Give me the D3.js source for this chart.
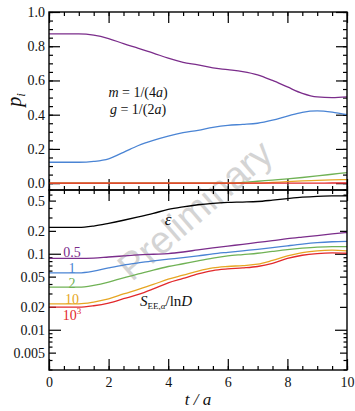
<!DOCTYPE html>
<html>
<head>
<meta charset="utf-8">
<script src="https://cdn.jsdelivr.net/npm/d3@7"></script>
<style>
body { margin: 0; background: #fff; }
text { font-family: "Liberation Serif", "DejaVu Serif", serif; }
</style>
</head>
<body>
<div id="chart"></div>
<script>
// time grid
var tVals = [0, 1, 1.5, 2, 2.5, 3, 3.5, 4, 4.5, 5, 5.5, 6, 6.5, 7, 7.5, 8, 8.5, 9, 9.5, 10]

// upper panel: probabilities p_i
var pPurple = [0.872, 0.872, 0.865, 0.845, 0.815, 0.788, 0.760, 0.730, 0.706, 0.691, 0.673, 0.663, 0.652, 0.633, 0.600, 0.562, 0.525, 0.504, 0.500, 0.504]
var pBlue   = [0.122, 0.122, 0.127, 0.142, 0.180, 0.220, 0.250, 0.275, 0.295, 0.308, 0.326, 0.338, 0.343, 0.350, 0.368, 0.392, 0.414, 0.422, 0.415, 0.400]
var pGreen  = [0, 0, 0, 0, 0, 0, 0, 0, 0, 0, 0, 0, 0.004, 0.011, 0.018, 0.025, 0.033, 0.042, 0.052, 0.062]
var pOrange = [0, 0, 0, 0, 0, 0, 0, 0, 0, 0, 0, 0, 0, 0, 0.004, 0.009, 0.013, 0.016, 0.019, 0.021]
var pRed    = [0, 0, 0, 0, 0, 0, 0, 0, 0, 0, 0, 0, 0, 0, 0, 0, 0, 0, 0.001, 0.001]

// lower panel: epsilon and S_EE,alpha / lnD
var eps    = [0.225, 0.225, 0.235, 0.255, 0.280, 0.310, 0.345, 0.388, 0.420, 0.448, 0.468, 0.480, 0.486, 0.494, 0.515, 0.540, 0.563, 0.578, 0.585, 0.588]
var s05    = [0.088, 0.088, 0.089, 0.092, 0.095, 0.098, 0.100, 0.102, 0.107, 0.114, 0.121, 0.128, 0.135, 0.143, 0.151, 0.160, 0.168, 0.176, 0.185, 0.193]
var s1     = [0.057, 0.057, 0.060, 0.066, 0.072, 0.077, 0.082, 0.086, 0.090, 0.095, 0.101, 0.106, 0.111, 0.116, 0.122, 0.129, 0.136, 0.142, 0.146, 0.148]
var s2     = [0.037, 0.037, 0.039, 0.043, 0.049, 0.055, 0.062, 0.069, 0.075, 0.082, 0.089, 0.095, 0.099, 0.103, 0.109, 0.115, 0.120, 0.124, 0.126, 0.126]
var s10    = [0.0223, 0.0223, 0.0235, 0.0258, 0.030, 0.0345, 0.040, 0.047, 0.053, 0.060, 0.066, 0.069, 0.071, 0.074, 0.083, 0.095, 0.105, 0.111, 0.113, 0.111]
var s1000  = [0.0201, 0.0201, 0.021, 0.0228, 0.026, 0.0296, 0.035, 0.042, 0.048, 0.055, 0.061, 0.064, 0.066, 0.069, 0.076, 0.088, 0.097, 0.102, 0.104, 0.103]

var xTicks = [0, 2, 4, 6, 8, 10]
var pTicks = [0, 0.2, 0.4, 0.6, 0.8, 1.0]
var logTicks = [0.005, 0.01, 0.02, 0.05, 0.1, 0.2, 0.5]

var cPurple = '#7b2d8b', cBlue = '#4a84d4', cGreen = '#70b255', cOrange = '#e6a623', cRed = '#e2292c'

var W = 355, H = 411
var L = 49, R = 347, T = 12, M = 190, B = 370

var svg = d3.select('#chart').append('svg').attr('width', W).attr('height', H)
svg.append('rect').attr('width', W).attr('height', H).attr('fill', '#fff')

var x = d3.scaleLinear().domain([0, 10]).range([L, R])
var yTop = d3.scaleLinear().domain([-0.04, 1.0]).range([M, T])
var yBot = d3.scaleLog().domain([0.003, 0.7]).range([B, M])

// watermark
svg.append('text')
	.attr('transform', 'translate(195,210) rotate(-41)')
	.attr('text-anchor', 'middle')
	.attr('dominant-baseline', 'central')
	.style('font-family', '"Liberation Sans", Arial, sans-serif')
	.style('font-size', '38px')
	.attr('fill', '#d4d4d4')
	.text('Preliminary')

function minorRange(a, b, s) {
	var out = []
	for (var v = a; v <= b + 1e-9; v += s) out.push(+v.toFixed(4))
	return out
}

function styleAxis(g) {
	g.select('.domain').remove()
	g.selectAll('line').attr('stroke', '#000').attr('stroke-width', 1.2)
	g.selectAll('text').style('font-family', '"Liberation Serif", serif').style('font-size', '14px').attr('fill', '#111')
}

// ---------- upper panel ticks ----------
var xMinor = minorRange(0, 10, 0.5)
var pMinor = minorRange(-0.0, 1.0, 0.05)

svg.append('g').attr('transform', 'translate(0,' + M + ')')
	.call(d3.axisBottom(x).tickValues(xMinor).tickSize(-4).tickFormat('')).call(styleAxis)
svg.append('g').attr('transform', 'translate(0,' + M + ')')
	.call(d3.axisBottom(x).tickValues(xTicks).tickSize(-11).tickFormat('')).call(styleAxis)
svg.append('g').attr('transform', 'translate(0,' + T + ')')
	.call(d3.axisTop(x).tickValues(xMinor).tickSize(-4).tickFormat('')).call(styleAxis)
svg.append('g').attr('transform', 'translate(0,' + T + ')')
	.call(d3.axisTop(x).tickValues(xTicks).tickSize(-11).tickFormat('')).call(styleAxis)

svg.append('g').attr('transform', 'translate(' + L + ',0)')
	.call(d3.axisLeft(yTop).tickValues(pMinor).tickSize(-4).tickFormat('')).call(styleAxis)
svg.append('g').attr('transform', 'translate(' + L + ',0)')
	.call(d3.axisLeft(yTop).tickValues(pTicks).tickSize(-11).tickPadding(4).tickFormat(d3.format('.1f'))).call(styleAxis)
svg.append('g').attr('transform', 'translate(' + R + ',0)')
	.call(d3.axisRight(yTop).tickValues(pMinor).tickSize(-4).tickFormat('')).call(styleAxis)
svg.append('g').attr('transform', 'translate(' + R + ',0)')
	.call(d3.axisRight(yTop).tickValues(pTicks).tickSize(-11).tickFormat('')).call(styleAxis)

// ---------- lower panel ticks ----------
svg.append('g').attr('transform', 'translate(0,' + B + ')')
	.call(d3.axisBottom(x).tickValues(xMinor).tickSize(-4).tickFormat('')).call(styleAxis)
svg.append('g').attr('transform', 'translate(0,' + B + ')')
	.call(d3.axisBottom(x).tickValues(xTicks).tickSize(-11).tickPadding(7).tickFormat(d3.format('d'))).call(styleAxis)
svg.append('g').attr('transform', 'translate(0,' + M + ')')
	.call(d3.axisTop(x).tickValues(xMinor).tickSize(-4).tickFormat('')).call(styleAxis)
svg.append('g').attr('transform', 'translate(0,' + M + ')')
	.call(d3.axisTop(x).tickValues(xTicks).tickSize(-11).tickFormat('')).call(styleAxis)

var logMinor = []
;[0.001, 0.01, 0.1].forEach(function(dec) {
	for (var k = 1; k <= 9; k++) {
		var v = +(dec * k).toPrecision(3)
		if (v >= 0.003 && v <= 0.7) logMinor.push(v)
	}
})
var logDecades = [0.01, 0.1]
var logMid = [0.005, 0.02, 0.05, 0.2, 0.5]

function logTickSize(v) {
	if (logDecades.indexOf(v) >= 0) return 12
	if (logMid.indexOf(v) >= 0) return 7
	return 3.5
}

;[['left', L, -1], ['right', R, 1]].forEach(function(side) {
	var g = svg.append('g')
	g.selectAll('line').data(logMinor).enter().append('line')
		.attr('x1', side[1])
		.attr('x2', function(d) { return side[1] - side[2] * logTickSize(d) })
		.attr('y1', function(d) { return yBot(d) })
		.attr('y2', function(d) { return yBot(d) })
		.attr('stroke', '#000').attr('stroke-width', 1.2)
})

svg.append('g').attr('transform', 'translate(' + L + ',0)')
	.call(d3.axisLeft(yBot).tickValues(logTicks).tickSize(0).tickPadding(4).tickFormat(function(d) { return String(d) }))
	.call(styleAxis)

// ---------- lines ----------
var lineTop = d3.line().curve(d3.curveMonotoneX)
	.x(function(d, i) { return x(tVals[i]) })
	.y(function(d) { return yTop(d) })
var lineBot = d3.line().curve(d3.curveMonotoneX)
	.x(function(d, i) { return x(tVals[i]) })
	.y(function(d) { return yBot(d) })

var topSeries = [[pPurple, cPurple], [pBlue, cBlue], [pGreen, cGreen], [pOrange, cOrange], [pRed, cRed]]
topSeries.forEach(function(s) {
	svg.append('path').attr('d', lineTop(s[0])).attr('fill', 'none').attr('stroke', s[1]).attr('stroke-width', 1.3)
})

var botSeries = [[eps, '#000'], [s05, cPurple], [s1, cBlue], [s2, cGreen], [s10, cOrange], [s1000, cRed]]
botSeries.forEach(function(s) {
	svg.append('path').attr('d', lineBot(s[0])).attr('fill', 'none').attr('stroke', s[1]).attr('stroke-width', 1.3)
})

// frames
svg.append('rect').attr('x', L).attr('y', T).attr('width', R - L).attr('height', M - T)
	.attr('fill', 'none').attr('stroke', '#000').attr('stroke-width', 1.4)
svg.append('rect').attr('x', L).attr('y', M).attr('width', R - L).attr('height', B - M)
	.attr('fill', 'none').attr('stroke', '#000').attr('stroke-width', 1.4)

// ---------- labels ----------
var yl = svg.append('text').attr('transform', 'translate(21,100) rotate(-90)')
	.attr('text-anchor', 'middle').style('font-size', '20px').attr('fill', '#111')
yl.append('tspan').style('font-style', 'italic').text('p')
yl.append('tspan').style('font-style', 'italic').style('font-size', '13px').attr('dy', 4).text('i')

var xl = svg.append('text').attr('x', 198).attr('y', 405).attr('text-anchor', 'middle')
	.style('font-size', '17px').style('font-style', 'italic').attr('fill', '#111')
xl.text('t / a')

var m1 = svg.append('text').attr('x', 138).attr('y', 97).attr('text-anchor', 'middle').style('font-size', '14px').attr('fill', '#111')
m1.append('tspan').style('font-style', 'italic').text('m')
m1.append('tspan').text(' = 1/(4')
m1.append('tspan').style('font-style', 'italic').text('a')
m1.append('tspan').text(')')
var g1 = svg.append('text').attr('x', 138).attr('y', 114).attr('text-anchor', 'middle').style('font-size', '14px').attr('fill', '#111')
g1.append('tspan').style('font-style', 'italic').text('g')
g1.append('tspan').text(' = 1/(2')
g1.append('tspan').style('font-style', 'italic').text('a')
g1.append('tspan').text(')')

svg.append('text').attr('x', 168).attr('y', 225).attr('text-anchor', 'middle')
	.style('font-size', '17px').style('font-style', 'italic').attr('fill', '#111').text('ε')

var se = svg.append('text').attr('x', 140).attr('y', 306).style('font-size', '15px').attr('fill', '#111')
se.append('tspan').style('font-style', 'italic').text('S')
se.append('tspan').style('font-size', '9px').attr('dy', 3).text('EE,')
se.append('tspan').style('font-size', '9px').style('font-style', 'italic').text('α')
se.append('tspan').attr('dy', -3).text('/ln')
se.append('tspan').style('font-style', 'italic').text('D')

var curveLabels = [
	{ text: '0.5', y: 256.5, color: cPurple },
	{ text: '1', y: 273, color: cBlue },
	{ text: '2', y: 288, color: cGreen },
	{ text: '10', y: 304, color: cOrange }
]
curveLabels.forEach(function(d) {
	svg.append('text').attr('x', 72).attr('y', d.y).attr('text-anchor', 'middle')
		.style('font-size', '14px').attr('fill', d.color).text(d.text)
})
var k3 = svg.append('text').attr('x', 72).attr('y', 319.5).attr('text-anchor', 'middle')
	.style('font-size', '14px').attr('fill', cRed)
k3.append('tspan').text('10')
k3.append('tspan').style('font-size', '9px').attr('dy', -6).text('3')
</script>
</body>
</html>
